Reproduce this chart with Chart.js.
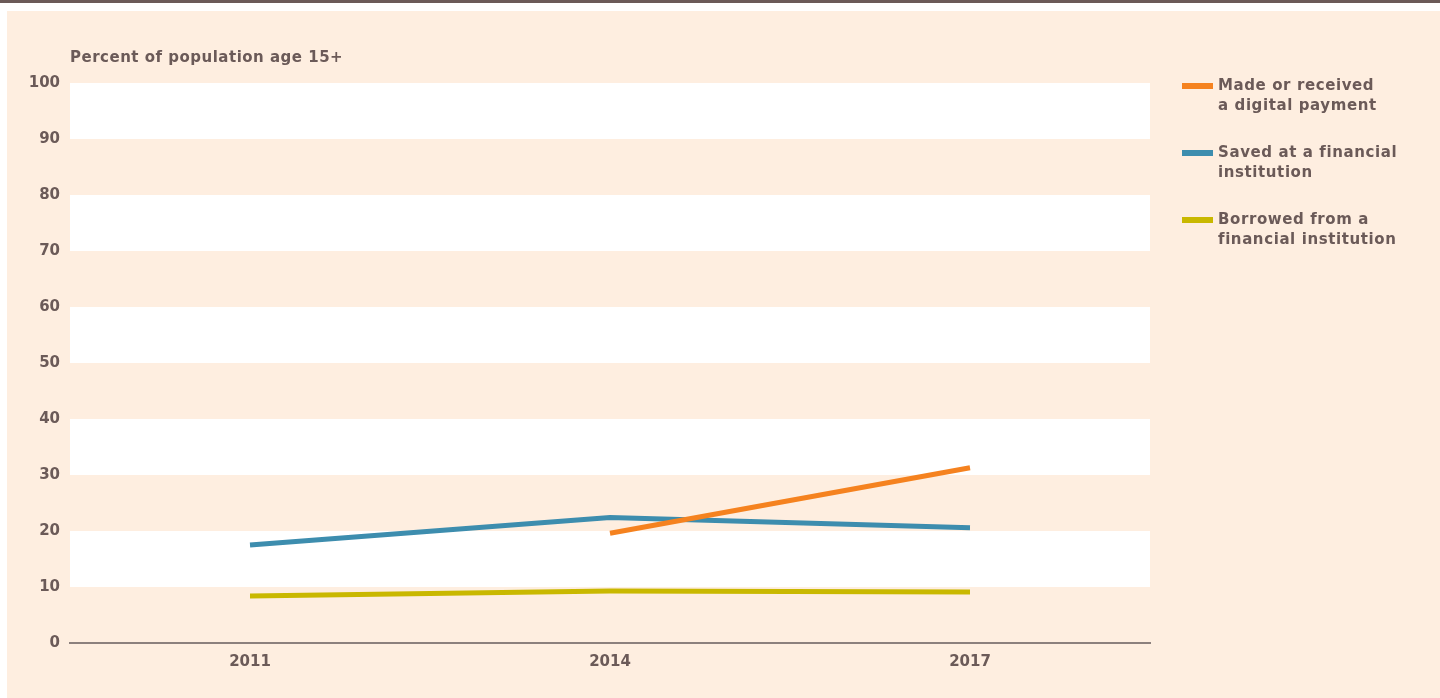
<!DOCTYPE html>
<html>
<head>
<meta charset="utf-8">
<script src="https://cdn.jsdelivr.net/npm/chart.js@4/dist/chart.umd.min.js"></script>
<style>
  body { margin: 0; background: #fff; width: 1440px; height: 698px; overflow: hidden; position: relative; font-family: 'DejaVu Sans', sans-serif; }
  #topBar { position: absolute; left: 0; top: 0; width: 1440px; height: 3px; background: #6b5a58; }
  #panel { position: absolute; left: 7px; top: 11px; width: 1433px; height: 687px; background: #feeee0; }
  #wrap { position: absolute; left: 0; top: 0; width: 1440px; height: 698px; }
  #legend { position: absolute; left: 1182px; top: 75px; }
  .item { position: relative; height: 67px; }
  .swatch { position: absolute; left: 0; top: 8px; width: 31px; height: 6px; }
  .label { position: absolute; left: 36px; top: 0; font: bold 15px 'DejaVu Sans', sans-serif; line-height: 20px; color: #6b5a58; letter-spacing: 0.6px; white-space: nowrap; }
</style>
</head>
<body>
<div id="topBar"></div>
<div id="panel"></div>
<div id="wrap"><canvas id="myChart"></canvas></div>
<div id="legend"></div>
<script>
const years = ['2011', '2014', '2017']
const digitalPayment = [null, 19.6, 31.3]
const savedFinancial = [17.5, 22.4, 20.6]
const borrowedFinancial = [8.4, 9.3, 9.1]
const seriesLabels = [
  ['Made or received', 'a digital payment'],
  ['Saved at a financial', 'institution'],
  ['Borrowed from a', 'financial institution'],
]
const seriesColors = ['#f5821f', '#3d8dae', '#c9b800']
const whiteBands = [[10, 20], [30, 40], [50, 60], [70, 80], [90, 100]]
const yTitle = 'Percent of population age 15+'

const textColor = '#6b5a58'
const fontFamily = "'DejaVu Sans', sans-serif"

// white stripes behind the lines + the axis title
const bandsPlugin = {
  id: 'bands',
  beforeDatasetsDraw(chart) {
    const { ctx, chartArea, scales } = chart
    ctx.save()
    ctx.fillStyle = '#ffffff'
    whiteBands.forEach(([lo, hi]) => {
      const top = scales.y.getPixelForValue(hi)
      const bottom = scales.y.getPixelForValue(lo)
      ctx.fillRect(chartArea.left, top, chartArea.right - chartArea.left, bottom - top)
    })
    ctx.restore()
  },
  afterDraw(chart) {
    const { ctx, chartArea } = chart
    ctx.save()
    ctx.fillStyle = textColor
    ctx.font = 'bold 15px ' + fontFamily
    ctx.letterSpacing = '0.5px'
    ctx.textBaseline = 'middle'
    ctx.fillText(yTitle, chartArea.left, chartArea.top - 25)
    ctx.restore()
  },
}

const datasets = [digitalPayment, savedFinancial, borrowedFinancial].map((values, i) => ({
  label: seriesLabels[i].join(' '),
  data: values,
  borderColor: seriesColors[i],
  backgroundColor: seriesColors[i],
  borderWidth: 5,
  pointRadius: 0,
  tension: 0,
  fill: false,
  spanGaps: false,
}))

new Chart('myChart', {
  type: 'line',
  data: { labels: years, datasets: datasets },
  plugins: [bandsPlugin],
  options: {
    responsive: true,
    maintainAspectRatio: false,
    animation: false,
    layout: { padding: { top: 83, right: 290, left: 0, bottom: 0 } },
    plugins: { legend: { display: false }, tooltip: { enabled: false } },
    scales: {
      x: {
        offset: true,
        grid: { display: false, drawTicks: false },
        border: { display: true, color: '#8c807d', width: 2 },
        ticks: { color: textColor, font: { family: fontFamily, size: 15, weight: 'bold' }, padding: 10 },
        afterFit: (scale) => { scale.height = 55 },
      },
      y: {
        min: 0,
        max: 100,
        grid: { display: false, drawTicks: false },
        border: { display: false },
        ticks: { stepSize: 10, color: textColor, font: { family: fontFamily, size: 15, weight: 'bold' }, padding: 10 },
        afterFit: (scale) => { scale.width = 70 },
      },
    },
  },
})

const legend = document.querySelector('#legend')
seriesLabels.forEach((lines, i) => {
  const item = document.createElement('div')
  item.className = 'item'
  item.innerHTML = '<div class="swatch" style="background:' + seriesColors[i] + '"></div>' +
    '<div class="label">' + lines.join('<br>') + '</div>'
  legend.appendChild(item)
})
</script>
</body>
</html>
